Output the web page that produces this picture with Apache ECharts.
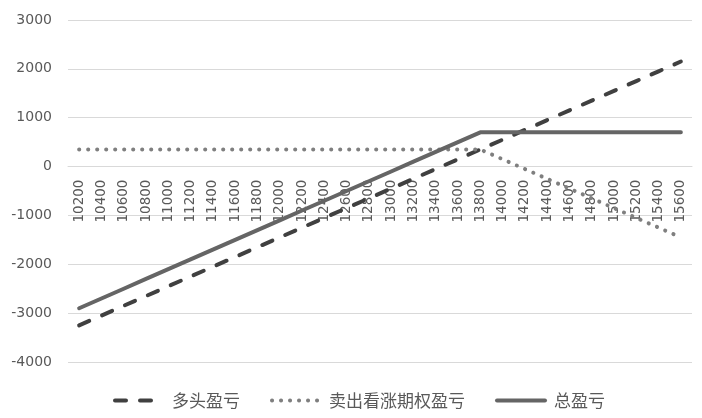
<!DOCTYPE html>
<html><head><meta charset="utf-8">
<script src="https://cdn.jsdelivr.net/npm/echarts@6/dist/echarts.min.js"></script>
<style>html,body{margin:0;padding:0;background:#fff}#c{width:702px;height:418px}</style>
</head><body><div id="c"></div>
<script>
const categories = ['10200','10400','10600','10800','11000','11200','11400','11600','11800','12000','12200','12400','12600','12800','13000','13200','13400','13600','13800','14000','14200','14400','14600','14800','15000','15200','15400','15600'];
const longPL = [-3250,-3050,-2850,-2650,-2450,-2250,-2050,-1850,-1650,-1450,-1250,-1050,-850,-650,-450,-250,-50,150,350,550,750,950,1150,1350,1550,1750,1950,2150];
const shortCallPL = [350,350,350,350,350,350,350,350,350,350,350,350,350,350,350,350,350,350,350,150,-50,-250,-450,-650,-850,-1050,-1250,-1450];
const totalPL = [-2900,-2700,-2500,-2300,-2100,-1900,-1700,-1500,-1300,-1100,-900,-700,-500,-300,-100,100,300,500,700,700,700,700,700,700,700,700,700,700];
const seriesNames = ['多头盈亏','卖出看涨期权盈亏','总盈亏'];
const yMin = -4000, yMax = 3000;

const gridTop = 20, gridBottom = 56, chartH = 418;
const plotH = chartH - gridTop - gridBottom;
const zeroOffset = -plotH * (0 - yMin) / (yMax - yMin);

const styles = [
  {color: '#404040', width: 4, type: [11, 14], cap: 'round'},
  {color: '#7f7f7f', width: 4, type: [0.1, 8.9], cap: 'round'},
  {color: '#656565', width: 4, type: 'solid', cap: 'round'}
];

const chart = echarts.init(document.getElementById('c'));
const font = "'DejaVu Sans', sans-serif";
chart.setOption({
  animation: false,
  textStyle: {fontFamily: font},
  grid: {left: 68, right: 10, top: gridTop, bottom: gridBottom},
  legend: {
    top: 387, left: 108, itemWidth: 48, itemHeight: 14, itemGap: 30,
    itemStyle: {opacity: 0},
    textStyle: {fontFamily: "'Noto Sans CJK SC', sans-serif", fontSize: 17, color: '#595959', padding: [0, 0, 0, 4]},
    data: seriesNames.map((n, i) => ({name: n, lineStyle: Object.assign({}, styles[i])}))
  },
  xAxis: {
    type: 'category', data: categories, boundaryGap: true, position: 'bottom', offset: zeroOffset,
    axisLine: {onZero: false, lineStyle: {color: '#d9d9d9', width: 1}},
    axisTick: {show: false},
    axisLabel: {rotate: 90, interval: 0, fontSize: 13.5, color: '#595959', margin: 13, fontFamily: font}
  },
  yAxis: {
    type: 'value', min: yMin, max: yMax, interval: 1000,
    axisLine: {show: false}, axisTick: {show: false},
    splitLine: {lineStyle: {color: '#d9d9d9', width: 1}},
    axisLabel: {fontSize: 14, color: '#595959', margin: 16, fontFamily: font, formatter: v => String(v)}
  },
  series: seriesNames.map((n, i) => ({
    name: n, type: 'line', data: [longPL, shortCallPL, totalPL][i], symbol: 'none',
    lineStyle: Object.assign({}, styles[i]),
    itemStyle: {color: styles[i].color}
  }))
});
</script></body></html>
